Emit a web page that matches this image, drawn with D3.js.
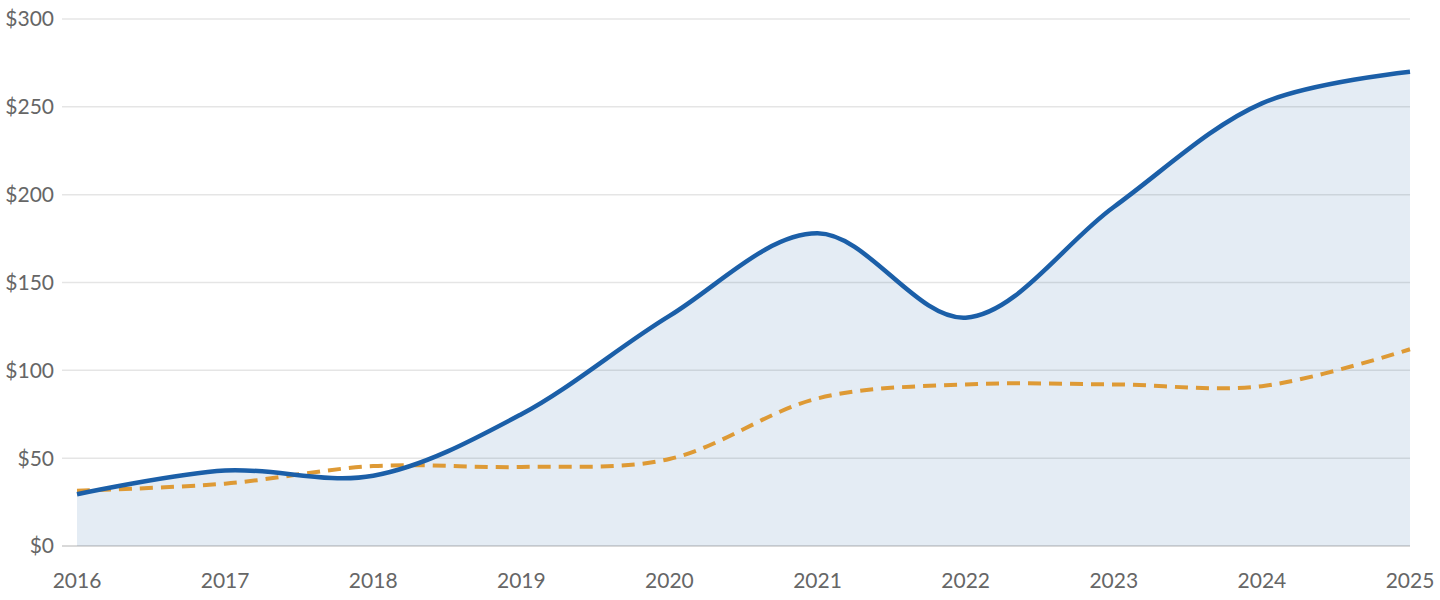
<!DOCTYPE html>
<html>
<head>
<meta charset="utf-8">
<script src="https://cdn.jsdelivr.net/npm/d3@7"></script>
<style>
  body { margin: 0; background: #fff; }
  svg text { font-family: "Source Sans Pro", Lato, "Open Sans", sans-serif; }
</style>
</head>
<body>
<svg id="chart"></svg>
<script>
// data
var years = [2016, 2017, 2018, 2019, 2020, 2021, 2022, 2023, 2024, 2025];
var mainValues = [29.5, 43, 40, 75, 131, 178, 130, 193, 252, 270];
var compareValues = [31.5, 35.5, 45.5, 45, 49.5, 84, 92, 92, 91, 112];
var yTicks = [0, 50, 100, 150, 200, 250, 300];

var margin = {top: 19, right: 30, bottom: 54, left: 77},
    width = 1440 - margin.left - margin.right,
    height = 600 - margin.top - margin.bottom;

const svg = d3.select("#chart")
    .attr("width", width + margin.left + margin.right)
    .attr("height", height + margin.top + margin.bottom)
  .append("g")
    .attr("transform", `translate(${margin.left}, ${margin.top})`);

const x = d3.scaleLinear()
    .domain([2016, 2025])
    .range([0, width]);

const y = d3.scaleLinear()
    .domain([0, 300])
    .range([height, 0]);

var mainData = years.map((d, i) => ({year: d, value: mainValues[i]}));
var compareData = years.map((d, i) => ({year: d, value: compareValues[i]}));

// area under the main line
var area = d3.area()
    .curve(d3.curveCatmullRom)
    .x(d => x(d.year))
    .y0(y(0))
    .y1(d => y(d.value));

svg.append("path")
    .datum(mainData)
    .attr("d", area)
    .attr("fill", "#e4ecf4");

// grid lines on top of the fill
svg.append("g")
  .selectAll("line")
  .data(yTicks)
  .enter()
  .append("line")
    .attr("x1", -15)
    .attr("x2", width)
    .attr("y1", d => y(d))
    .attr("y2", d => y(d))
    .attr("stroke", d => d === 0 ? "rgba(0,0,0,0.2)" : "rgba(0,0,0,0.1)")
    .attr("stroke-width", 1.5);

// y labels
svg.append("g")
  .selectAll("text")
  .data(yTicks)
  .enter()
  .append("text")
    .attr("x", -23)
    .attr("y", d => y(d))
    .attr("dy", "0.35em")
    .attr("text-anchor", "end")
    .style("font-size", "21px")
    .style("fill", "#666")
    .text(d => "$" + d);

// x labels
svg.append("g")
  .selectAll("text")
  .data(years)
  .enter()
  .append("text")
    .attr("x", d => x(d))
    .attr("y", height + 42)
    .attr("text-anchor", "middle")
    .style("font-size", "21px")
    .style("fill", "#666")
    .text(d => d);

var line = d3.line()
    .curve(d3.curveCatmullRom)
    .x(d => x(d.year))
    .y(d => y(d.value));

svg.append("path")
    .datum(compareData)
    .attr("d", line)
    .attr("fill", "none")
    .attr("stroke", "#de9a35")
    .attr("stroke-width", 4)
    .attr("stroke-dasharray", "13 8");

svg.append("path")
    .datum(mainData)
    .attr("d", line)
    .attr("fill", "none")
    .attr("stroke", "#1b5fa8")
    .attr("stroke-width", 4.5)
    .attr("stroke-linejoin", "round");
</script>
</body>
</html>
